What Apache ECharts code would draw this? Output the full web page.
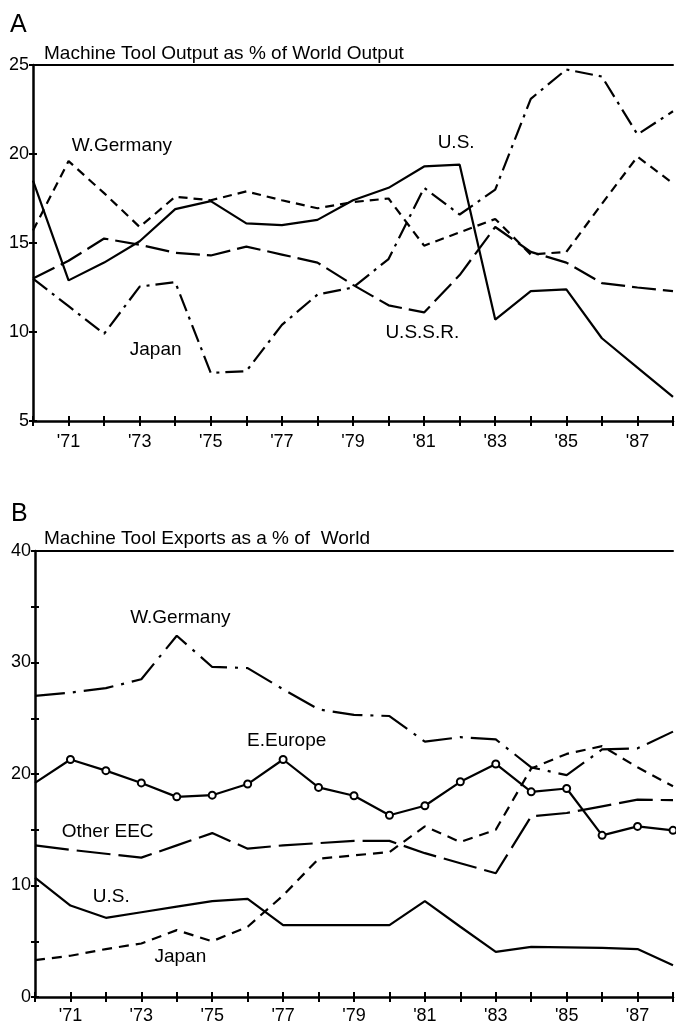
<!DOCTYPE html>
<html><head><meta charset="utf-8">
<script src="https://cdn.jsdelivr.net/npm/echarts@6/dist/echarts.min.js"></script>
<style>html,body{margin:0;padding:0;background:#fff}#c{width:676px;height:1027px}</style>
</head><body><div id="c"></div>
<script>
// ---------- data ----------
const years = [1970,1971,1972,1973,1974,1975,1976,1977,1978,1979,1980,1981,1982,1983,1984,1985,1986,1987,1988];
const xLabelYears = [1971,1973,1975,1977,1979,1981,1983,1985,1987];
const yLabelsA = [5,10,15,20,25];
const yLabelsB = [0,10,20,30,40];

// Panel A: Machine Tool Output as % of World Output
const usA      = [18.5,12.9,13.9,15.1,16.9,17.35,16.1,16.0,16.3,17.4,18.1,19.3,19.4,10.7,12.3,12.4,9.65,8.0,6.35];
const wGermanyA= [15.7,19.6,17.8,15.9,17.6,17.4,17.9,17.4,16.95,17.3,17.5,14.85,15.6,16.35,14.35,14.5,17.2,19.85,18.35];
const japanA   = [13.0,11.45,9.9,12.55,12.8,7.7,7.8,10.4,12.1,12.5,14.1,18.1,16.6,18.0,23.1,24.75,24.35,21.1,22.4];
const ussrA    = [13.0,14.0,15.25,14.9,14.45,14.3,14.8,14.35,13.9,12.65,11.5,11.1,13.2,15.9,14.5,13.9,12.75,12.5,12.3];

// Panel B: Machine Tool Exports as a % of World
const wGermanyB= [27.0,27.3,27.7,28.5,32.4,29.6,29.5,27.6,25.8,25.3,25.2,22.9,23.3,23.1,20.6,19.9,22.2,22.3,23.8];
const eEuropeB = [19.2,21.3,20.3,19.2,17.95,18.1,19.1,21.3,18.8,18.05,16.3,17.15,19.3,20.9,18.4,18.7,14.5,15.3,14.95];
const otherEecB= [13.6,13.2,12.85,12.5,13.6,14.7,13.3,13.6,13.8,14.0,14.0,12.9,12.0,11.1,16.2,16.5,17.1,17.7,17.65];
const japanB   = [3.3,3.7,4.3,4.8,6.0,5.0,6.3,9.1,12.4,12.7,13.0,15.3,13.9,15.0,20.5,21.8,22.5,20.6,18.9];
const usB      = [10.7,8.2,7.1,7.6,8.1,8.6,8.8,6.45,6.45,6.45,6.45,8.6,6.3,4.05,4.5,4.45,4.4,4.3,2.85];

// series name labels (placed in data coordinates)
const labelNamesA = ['W.Germany','U.S.','U.S.S.R.','Japan'];
const labelXA = [1972.5,1981.9,1980.95,1973.45];
const labelYA = [20.45,20.65,9.95,9.0];
const labelNamesB = ['W.Germany','E.Europe','Other EEC','U.S.','Japan'];
const labelXB = [1974.1,1977.1,1972.05,1972.15,1974.1];
const labelYB = [34.0,23.0,14.8,8.95,3.65];

// ---------- chart ----------
const FONT = 'Liberation Sans, Arial, Helvetica, sans-serif';
const INK = '#000';
const pairs = vals => years.map((y,i)=>[y, vals[i]]);

function xAxesFor(g, margin){
  return [
    {gridIndex:g, type:'value', min:1970, max:1988, interval:1, position:'bottom',
     axisLine:{show:true, lineStyle:{color:INK, width:2.5}},
     axisTick:{show:true, length:5, lineStyle:{color:INK, width:2}},
     axisLabel:{show:true, margin:margin, fontSize:18, color:INK, fontFamily:FONT,
       formatter:v=> xLabelYears.includes(v) ? "'" + String(v).slice(2) : ''},
     splitLine:{show:false}},
    {gridIndex:g, type:'value', min:1970, max:1988, interval:1, position:'bottom',
     axisLine:{show:false},
     axisTick:{show:true, inside:true, length:5, lineStyle:{color:INK, width:2}},
     axisLabel:{show:false}, splitLine:{show:false}},
    {gridIndex:g, type:'value', min:1970, max:1988, position:'top',
     axisLine:{show:true, lineStyle:{color:INK, width:2}},
     axisTick:{show:false}, axisLabel:{show:false}, splitLine:{show:false}}
  ];
}
function yAxesFor(g, min, max, labels){
  return [
    {gridIndex:g, type:'value', min:min, max:max, interval:5, position:'left',
     axisLine:{show:true, lineStyle:{color:INK, width:2.5}},
     axisTick:{show:true, length:4, lineStyle:{color:INK, width:2}},
     axisLabel:{show:true, margin:4, fontSize:18, color:INK, fontFamily:FONT,
       formatter:v=> labels.includes(v) ? String(v) : ''},
     splitLine:{show:false}},
    {gridIndex:g, type:'value', min:min, max:max, interval:5, position:'left',
     axisLine:{show:false},
     axisTick:{show:true, inside:true, length:4, lineStyle:{color:INK, width:2}},
     axisLabel:{show:false}, splitLine:{show:false}}
  ];
}
function line(xi, yi, vals, dash, extra){
  return Object.assign({
    type:'line', xAxisIndex:xi, yAxisIndex:yi, data:pairs(vals),
    symbol:'none', silent:true, animation:false, clip:true,
    lineStyle:{color:INK, width:2.2, type:dash}
  }, extra||{});
}
function labels(xi, yi, names, xs, ys){
  return {
    type:'scatter', xAxisIndex:xi, yAxisIndex:yi, symbolSize:0, silent:true, animation:false,
    itemStyle:{opacity:1, color:INK},
    data: names.map((n,i)=>({name:n, value:[xs[i], ys[i]]})),
    label:{show:true, position:'inside', formatter:'{b}', fontSize:19, color:INK,
      fontFamily:FONT, opacity:1, textBorderWidth:0}
  };
}

const chart = echarts.init(document.getElementById('c'), null, {renderer:'canvas'});
chart.setOption({
  animation:false,
  backgroundColor:'#fff',
  title:[
    {text:'A', left:5, top:8, textStyle:{fontSize:25, fontWeight:'normal', color:INK, fontFamily:FONT}},
    {text:'Machine Tool Output as % of World Output', left:39, top:39, textStyle:{fontSize:19, fontWeight:'normal', color:INK, fontFamily:FONT}},
    {text:'B', left:6, top:497, textStyle:{fontSize:25, fontWeight:'normal', color:INK, fontFamily:FONT}},
    {text:'Machine Tool Exports as a % of  World', left:39, top:524, textStyle:{fontSize:19, fontWeight:'normal', color:INK, fontFamily:FONT}}
  ],
  grid:[
    {left:33, top:65, right:1, bottom:606},
    {left:35, top:551, right:-3, bottom:30}
  ],
  xAxis: xAxesFor(0,12).concat(xAxesFor(1,10)),
  yAxis: yAxesFor(0,5,25,yLabelsA).concat(yAxesFor(1,0,40,yLabelsB)),
  series:[
    line(0,0,usA,'solid'),
    line(0,0,wGermanyA,[9,6]),
    line(0,0,japanA,[18,6,3,6]),
    line(0,0,ussrA,[24,7]),
    labels(0,0,labelNamesA,labelXA,labelYA),

    line(3,2,wGermanyB,[30,8,3,8]),
    line(3,2,eEuropeB,'solid',{
      symbol:'emptyCircle', symbolSize:7, showAllSymbol:true,
      itemStyle:{color:INK, borderColor:INK, borderWidth:1.5},
      data: years.map((y,i)=> i===0 ? {value:[y,eEuropeB[i]], symbol:'none'} : [y,eEuropeB[i]])
    }),
    line(3,2,otherEecB,[34,8]),
    line(3,2,japanB,[10,7]),
    line(3,2,usB,'solid'),
    labels(3,2,labelNamesB,labelXB,labelYB)
  ]
});
</script>
</body></html>
